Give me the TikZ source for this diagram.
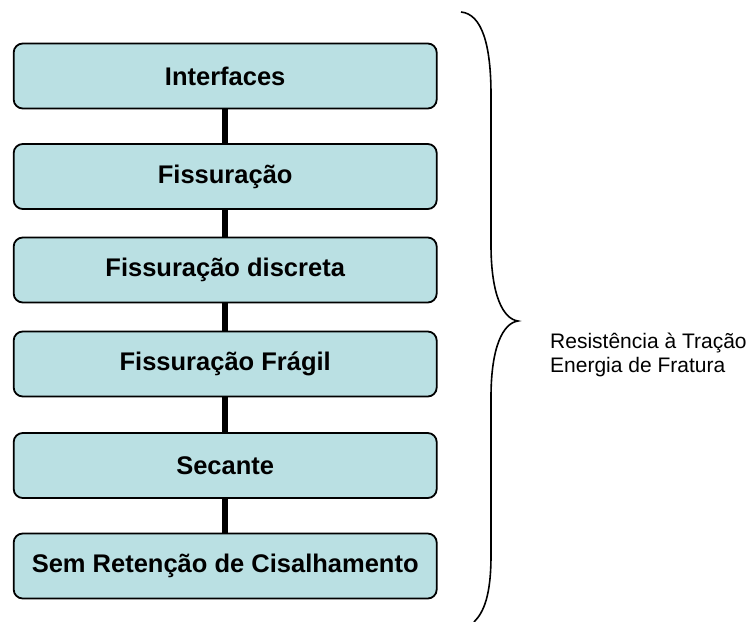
\documentclass[tikz,border=0pt]{standalone}
\usepackage{fontspec}
\setmainfont{Liberation Sans}
\definecolor{boxfill}{RGB}{186,224,227}
\begin{document}
\begin{tikzpicture}[x=1pt,y=-1pt,
  stage/.style={draw=black, line width=1.8pt, fill=boxfill, rounded corners=9pt,
    minimum width=423pt, minimum height=65pt, inner sep=0pt,
    font=\fontsize{25.5}{30}\selectfont\bfseries},
  link/.style={line width=5.5pt, black},
  note/.style={anchor=base west, inner sep=0pt, font=\fontsize{21}{25}\selectfont}]
\useasboundingbox (0,0) rectangle (751,621);
\node[stage] (b1) at (225.2,76) {Interfaces};
\node[stage] (b2) at (225.2,176.5) {Fissuração};
\node[stage] (b3) at (225.2,270) {Fissuração discreta};
\node[stage] (b4) at (225.2,364) {Fissuração Frágil};
\node[stage] (b5) at (225.2,465.5) {Secante};
\node[stage] (b6) at (225.2,566) {Sem Retenção de Cisalhamento};
\draw[link] (b1.south) -- (b2.north);
\draw[link] (b2.south) -- (b3.north);
\draw[link] (b3.south) -- (b4.north);
\draw[link] (b4.south) -- (b5.north);
\draw[link] (b5.south) -- (b6.north);
\coordinate (btop) at (461,12);
\coordinate (btip) at (518,321);
\coordinate (bbot) at (474,622);
\draw[line width=1.6pt] (btop) .. controls (482,14) and (491,45) .. (491,95)
  -- (491,245) .. controls (491,295) and (503,319) .. (btip)
  .. controls (503,323) and (491,347) .. (491,397)
  -- (491,555) .. controls (491,595) and (484,612) .. (bbot);
\node[note] (r1) at (550,348) {Resistência à Tração};
\node[note] (r2) at (550,372) {Energia de Fratura};
\end{tikzpicture}
\end{document}
